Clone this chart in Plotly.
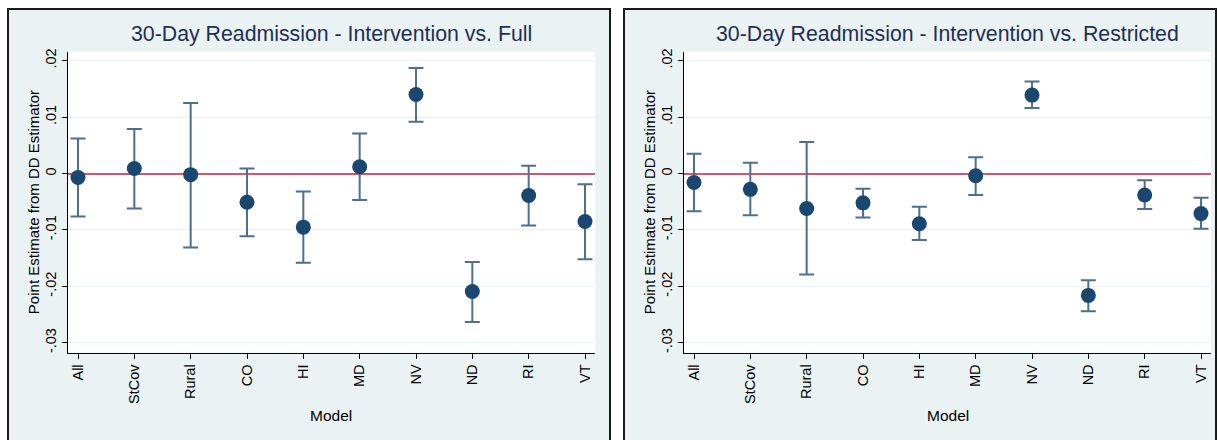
import numpy as np
import plotly.graph_objects as go

models = ["All", "StCov", "Rural", "CO", "HI", "MD", "NV", "ND", "RI", "VT"]

full_est = [-0.0007, 0.0009, -0.0002, -0.0051, -0.0095, 0.0012, 0.0140, -0.0209, -0.0039, -0.0085]
full_lo = [-0.0076, -0.0062, -0.0131, -0.0111, -0.0158, -0.0047, 0.0092, -0.0263, -0.0092, -0.0152]
full_hi = [0.0062, 0.0079, 0.0125, 0.0009, -0.0032, 0.0071, 0.0187, -0.0157, 0.0014, -0.0019]

restr_est = [-0.0016, -0.0028, -0.0062, -0.0052, -0.0089, -0.0004, 0.0139, -0.0216, -0.0038, -0.0071]
restr_lo = [-0.0067, -0.0074, -0.0179, -0.0078, -0.0118, -0.0038, 0.0116, -0.0244, -0.0063, -0.0098]
restr_hi = [0.0035, 0.0019, 0.0056, -0.0027, -0.0059, 0.0029, 0.0163, -0.0189, -0.0012, -0.0043]

titles = ["30-Day Readmission - Intervention vs. Full",
          "30-Day Readmission - Intervention vs. Restricted"]
y_ticks = [-0.03, -0.02, -0.01, 0, 0.01, 0.02]
y_ticktext = ["-.03", "-.02", "-.01", "0", ".01", ".02"]
y_title = "Point Estimate from DD Estimator"
x_title = "Model"

W, H = 1218, 440
FONT = "Liberation Sans, Arial, sans-serif"
NAVY = "#1a476f"
BAR = "#4e6f90"
PANEL = "#eaf2f3"

fig = go.Figure()

series = [(full_est, full_lo, full_hi), (restr_est, restr_lo, restr_hi)]
for i, (est, lo, hi) in enumerate(series):
    est_a = np.array(est)
    sfx = "" if i == 0 else "2"
    fig.add_trace(go.Scatter(
        x=models, y=est, mode="markers",
        xaxis="x" + sfx, yaxis="y" + sfx,
        marker=dict(size=15, color=NAVY),
        error_y=dict(type="data", symmetric=False,
                     array=list(np.array(hi) - est_a),
                     arrayminus=list(est_a - np.array(lo)),
                     color=BAR, thickness=2, width=7.5),
        showlegend=False, hoverinfo="skip",
    ))

# plot-area geometry (px)
plot_l = [68, 684]
plot_r = [595, 1211]
plot_t, plot_b = 49, 352
yd = [(H - plot_b) / H, (H - plot_t) / H]

shapes = []
annotations = []
panel_x = [(8, 610), (624, 1216)]
for i in range(2):
    x0, x1 = panel_x[i]
    shapes.append(dict(type="rect", xref="paper", yref="paper", layer="below",
                       x0=x0 / W, x1=x1 / W, y0=-0.05, y1=(H - 6) / H,
                       fillcolor=PANEL, line=dict(color="#1a1a1a", width=2)))
for i in range(2):
    sfx = "" if i == 0 else "2"
    shapes.append(dict(type="rect", xref=("x" + sfx) + " domain", yref=("y" + sfx) + " domain",
                       layer="below", x0=0, x1=1, y0=0, y1=1,
                       fillcolor="white", line=dict(width=0)))
    cx = (plot_l[i] + plot_r[i]) / 2 / W
    annotations.append(dict(text=titles[i], xref="paper", yref="paper", x=cx, y=(H - 31.5) / H,
                            xanchor="center", yanchor="middle", showarrow=False,
                            font=dict(family=FONT, size=21.3, color="#1f2f55")))
    annotations.append(dict(text=y_title, xref="paper", yref="paper",
                            x=(plot_l[i] - 35) / W, y=(H - 200.5) / H, textangle=-90,
                            xanchor="center", yanchor="middle", showarrow=False,
                            font=dict(family=FONT, size=15, color="black")))
    annotations.append(dict(text=x_title, xref="paper", yref="paper", x=cx, y=(H - 415) / H,
                            xanchor="center", yanchor="middle", showarrow=False,
                            font=dict(family=FONT, size=15.5, color="black")))

layout = dict(
    width=W, height=H, margin=dict(l=0, r=0, t=0, b=0),
    paper_bgcolor="white", plot_bgcolor="white",
    shapes=shapes, annotations=annotations,
    font=dict(family=FONT, color="black"),
)
for i in range(2):
    sfx = "" if i == 0 else "2"
    layout["xaxis" + sfx] = dict(
        domain=[plot_l[i] / W, plot_r[i] / W], anchor="y" + sfx,
        type="category", range=[-0.1775, 9.1775],
        tickangle=-90, ticks="outside", ticklen=5, tickcolor="black", tickwidth=1,
        showline=True, linecolor="black", linewidth=1, showgrid=False, zeroline=False,
        tickfont=dict(family=FONT, size=14.5, color="black"), fixedrange=True,
    )
    layout["yaxis" + sfx] = dict(
        domain=yd, anchor="x" + sfx, range=[-0.03174, 0.0216],
        tickvals=y_ticks, ticktext=y_ticktext, tickangle=-90,
        ticks="outside", ticklen=5, tickcolor="black", tickwidth=1,
        showline=True, linecolor="black", linewidth=1,
        showgrid=True, gridcolor=PANEL, gridwidth=1,
        zeroline=True, zerolinecolor="#d2566f", zerolinewidth=2,
        tickfont=dict(family=FONT, size=14.5, color="black"), fixedrange=True,
    )

fig.update_layout(**layout)
fig.write_html("out.html")
